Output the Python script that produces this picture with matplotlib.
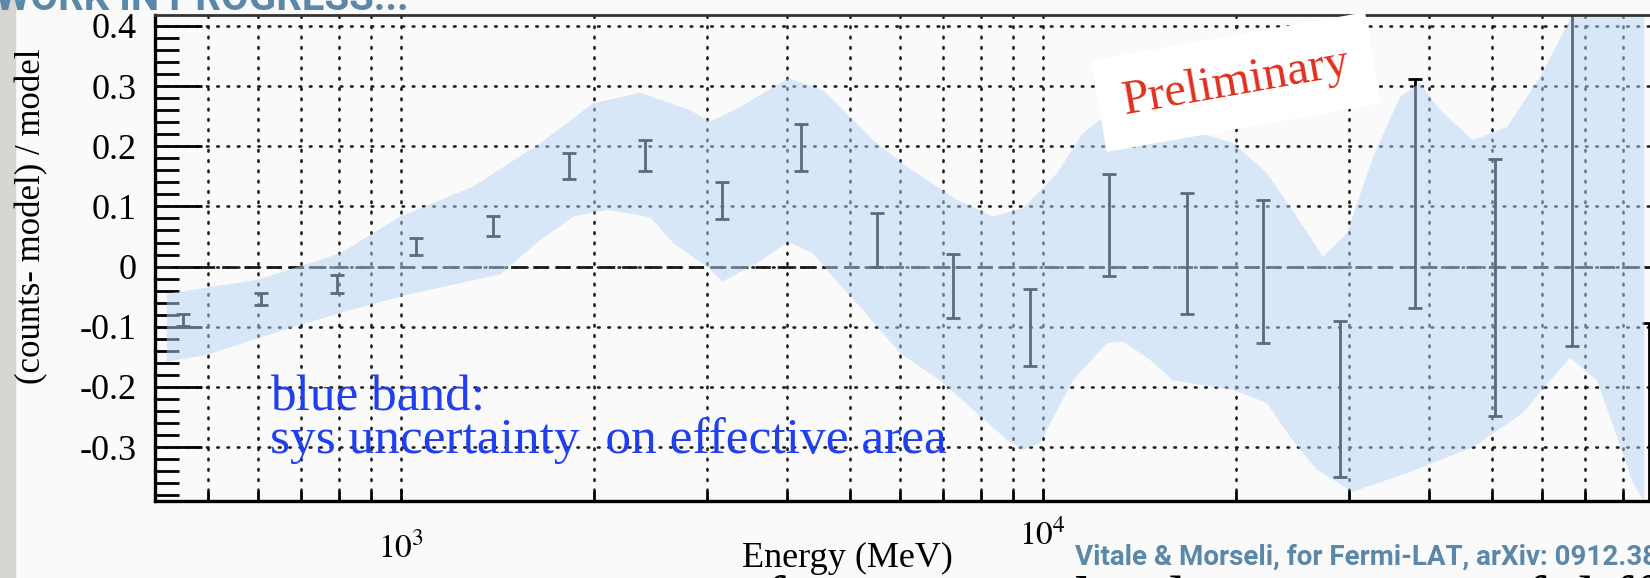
import matplotlib
matplotlib.use("Agg")
import matplotlib.pyplot as plt
import matplotlib.transforms as mtransforms
from matplotlib.patches import Rectangle
from matplotlib.ticker import LogLocator, MultipleLocator, NullFormatter

plt.rcParams["font.family"] = ["Liberation Serif", "DejaVu Serif"]
plt.rcParams["mathtext.fontset"] = "stix"

# residuals per energy bin: bin centre (MeV), lower and upper end of the error bar
energy = [458, 605, 795, 1056, 1390, 1828, 2400, 3160, 4200, 5520,
          7250, 9550, 12700, 16800, 22000, 29000, 38000, 50600, 66700, 87800]
resid_lo = [-0.099, -0.064, -0.044, 0.019, 0.051, 0.145, 0.158, 0.079, 0.158, 0.000,
            -0.086, -0.165, -0.016, -0.079, -0.127, -0.349, -0.068, -0.248, -0.132, -0.480]
resid_hi = [-0.078, -0.044, -0.014, 0.047, 0.084, 0.189, 0.211, 0.141, 0.237, 0.089,
            0.021, -0.038, 0.154, 0.122, 0.111, -0.090, 0.311, 0.178, 0.470, -0.094]

# systematic band (effective area): upper and lower edge
band_hi_e = [432, 470, 597, 804, 997, 1296, 1648, 1992, 2358, 2821, 3031, 3376, 4010,
             4546, 5439, 6143, 7350, 8362, 9315, 10520, 11550, 12860, 14690, 16960,
             19790, 22360, 24890, 27330, 29770, 32690, 36010, 38680, 41560, 46780,
             52860, 59500, 65550, 73790, 86500]
band_hi = [-0.045, -0.039, -0.022, 0.022, 0.083, 0.133, 0.205, 0.271, 0.289, 0.260,
           0.241, 0.265, 0.313, 0.293, 0.210, 0.166, 0.111, 0.083, 0.097, 0.155, 0.222,
           0.260, 0.249, 0.227, 0.205, 0.155, 0.082, 0.016, 0.056, 0.182, 0.282, 0.305,
           0.260, 0.210, 0.232, 0.315, 0.401, 0.500, 0.550]
band_lo_e = [432, 499, 632, 804, 1022, 1427, 1648, 1855, 2095, 2445, 2657, 3001, 3168,
             3591, 4010, 4386, 4832, 5135, 5993, 6917, 7786, 8795, 9315, 9900, 11140,
             12590, 13340, 14690, 15950, 19790, 22360, 24270, 26740, 30420, 36920,
             46780, 55980, 61660, 66260, 72980, 78430, 83060, 86090, 86500]
band_lo = [-0.158, -0.147, -0.111, -0.077, -0.047, -0.013, 0.044, 0.083, 0.094, 0.082,
           0.039, -0.001, -0.025, 0.006, 0.041, 0.022, -0.031, -0.061, -0.144, -0.189,
           -0.238, -0.288, -0.305, -0.293, -0.189, -0.127, -0.125, -0.155, -0.189,
           -0.205, -0.227, -0.283, -0.338, -0.374, -0.343, -0.300, -0.243, -0.189,
           -0.152, -0.189, -0.283, -0.360, -0.387, -0.400]

y_ticks = [-0.3, -0.2, -0.1, 0.0, 0.1, 0.2, 0.3, 0.4]
y_tick_labels = ["-0.3", "-0.2", "-0.1", "0", "0.1", "0.2", "0.3", "0.4"]
x_ticks = [1e3, 1e4]
x_tick_labels = ["$10^{3}$", "$10^{4}$"]

BG = "#fafafa"
STEEL = "#5b87a8"
W, H = 1650, 578

fig = plt.figure(figsize=(W / 100, H / 100), dpi=100, facecolor=BG)
ax = fig.add_axes([155 / W, 1 - 500.7 / H, 1 - 155 / W, (500.7 - 15) / H])
ax.set_facecolor(BG)

ax.set_xscale("log")
ax.set_xlim(414, 88270)
ax.set_ylim(-0.389, 0.418)

# grid and reference line
ax.set_axisbelow(True)
grid_style = dict(color="#1e1e1e", lw=1.9, ls=(0, (0.6, 3.3)), dash_capstyle="round")
ax.grid(True, axis="x", which="both", **grid_style)
ax.grid(True, axis="y", which="major", **grid_style)
ax.axhline(0, color="#1a1a1a", lw=2.0, ls=(0, (5.5, 2.5)), zorder=1)

# data points
center = [(lo + hi) / 2 for lo, hi in zip(resid_lo, resid_hi)]
half = [(hi - lo) / 2 for lo, hi in zip(resid_lo, resid_hi)]
ax.errorbar(energy, center, yerr=half, fmt="none", ecolor="black",
            elinewidth=2.0, capsize=5, capthick=2.0, zorder=1)

# uncertainty band drawn on top so the bars show through it
band_x = band_hi_e + band_lo_e[::-1]
band_y = band_hi + band_lo[::-1]
ax.fill(band_x, band_y, color="#b6d6f6", alpha=0.5, lw=0, zorder=2)

# axes cosmetics
for side in ("left", "bottom"):
    ax.spines[side].set_linewidth(2.4)
ax.spines["top"].set_linewidth(2.0)
ax.spines["top"].set_color("#333333")
ax.spines["right"].set_visible(False)

ax.set_yticks(y_ticks, labels=y_tick_labels)
ax.yaxis.set_minor_locator(MultipleLocator(0.02))
ax.xaxis.set_major_locator(LogLocator(base=10))
ax.xaxis.set_minor_locator(LogLocator(base=10, subs=range(2, 10)))
ax.xaxis.set_major_formatter(NullFormatter())
ax.xaxis.set_minor_formatter(NullFormatter())
ax.tick_params(axis="y", which="major", direction="in", length=34, width=2,
               pad=13, labelsize=26, right=False)
ax.tick_params(axis="y", which="minor", direction="in", length=17, width=2, right=False)
ax.tick_params(axis="x", which="major", direction="in", length=9, width=2, top=False)
ax.tick_params(axis="x", which="minor", direction="in", length=7, width=2, top=False)

# decade labels sit at slightly different heights
xlab_tf = mtransforms.blended_transform_factory(ax.transData, ax.transAxes)
for xt, lab, yy in zip(x_ticks, x_tick_labels, [-0.116, -0.091]):
    ax.text(xt, yy, lab, transform=xlab_tf, ha="center", va="baseline",
            fontsize=24, clip_on=False)

ax.set_xlabel("Energy (MeV)", fontsize=26)
ax.xaxis.set_label_coords(0.4635, -0.084)
fig.text(32 / W, 1 - 216 / H, "(counts- model) / model", rotation=90,
         ha="center", va="center", fontsize=25)

# annotations
ax.text(0.077, 0.1867, "blue band:", transform=ax.transAxes, color="#1f3ff0",
        fontsize=37, va="baseline", ha="left", zorder=5)
ax.text(0.077, 0.0988, "sys uncertainty  on effective area", transform=ax.transAxes,
        color="#1f3ff0", fontsize=37, va="baseline", ha="left", zorder=5)
ax.text(0.723, 0.862, "Preliminary", transform=ax.transAxes, color="#e0301e",
        fontsize=35, rotation=10, rotation_mode="anchor", ha="center", va="center",
        zorder=6, bbox=dict(boxstyle="square,pad=0.5", fc="white", ec="none"))

# slide furniture around the plot
fig.patches.append(Rectangle((0, 0), 15 / W, 1, transform=fig.transFigure,
                             color="#d7d6d1", zorder=0))
sans = ["Roboto", "Liberation Sans", "DejaVu Sans"]
fig.text(-5 / W, 1 - 10 / H, "WORK IN PROGRESS...", family=sans, weight="bold",
         color=STEEL, fontsize=29, ha="left", va="baseline")
fig.text(1075 / W, 1 - 565 / H, "Vitale & Morseli, for Fermi-LAT, arXiv: 0912.3828",
         family=sans, weight="bold", color=STEEL, fontsize=20, ha="left",
         va="baseline")
# next line of the slide, almost entirely below the bottom edge
fig.text(521 / W, 1 - 576 / H, "emission from unresolved sources, or of diffuse",
         color="black", fontsize=46, ha="left", va="top")

fig.savefig("out.png", dpi=100, facecolor=BG)
